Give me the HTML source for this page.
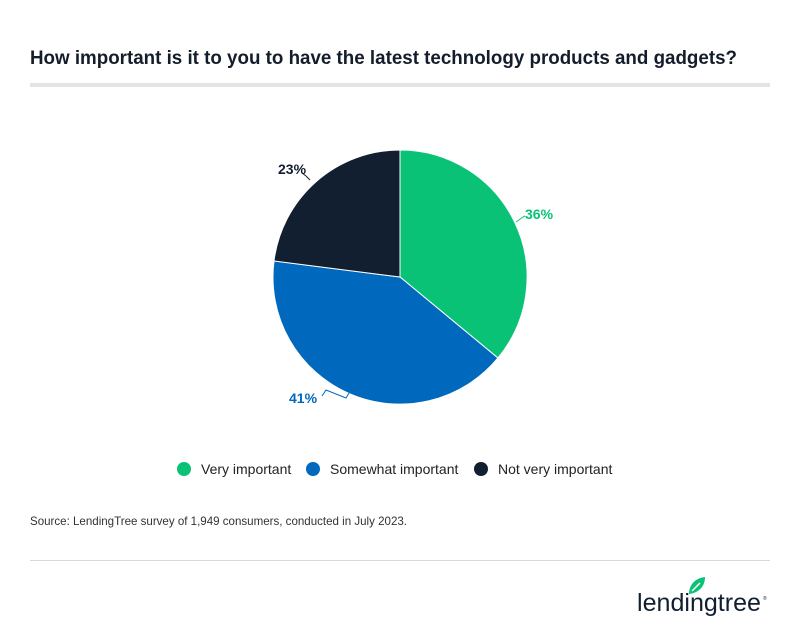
<!DOCTYPE html>
<html><head><meta charset="utf-8"><style>
body{margin:0;background:#fff;width:800px;height:632px;overflow:hidden;font-family:"Liberation Sans",sans-serif;}
</style></head><body>
<svg width="800" height="632" xmlns="http://www.w3.org/2000/svg" style="position:absolute;left:0;top:0">
<text x="30" y="64" font-size="19" font-weight="bold" fill="#141d2b" textLength="707" lengthAdjust="spacingAndGlyphs">How important is it to you to have the latest technology products and gadgets?</text>
<rect x="30" y="83" width="740" height="4" fill="#e3e4e6"/>
<path d="M400,277 L400,150 A127,127 0 0 1 497.9,358 Z" fill="#0ac275" stroke="#fff" stroke-width="1"/>
<path d="M400,277 L497.9,358 A127,127 0 0 1 274,261 Z" fill="#0069bd" stroke="#fff" stroke-width="1"/>
<path d="M400,277 L274,261 A127,127 0 0 1 400,150 Z" fill="#121f30" stroke="#fff" stroke-width="1"/>
<polyline points="516,222 523,217 525,216" fill="none" stroke="#0ac275" stroke-width="1"/>
<text x="525" y="219" font-size="14" font-weight="bold" fill="#0ac275">36%</text>
<polyline points="349,393 346,398 326,390 322,396" fill="none" stroke="#0069bd" stroke-width="1"/>
<text x="289" y="403" font-size="14" font-weight="bold" fill="#0069bd">41%</text>
<polyline points="310,180 306,176 302,173" fill="none" stroke="#121f30" stroke-width="1"/>
<text x="278" y="174" font-size="14" font-weight="bold" fill="#121f30">23%</text>
<circle cx="184" cy="469" r="7" fill="#0ac275"/>
<text x="201" y="474" font-size="14" fill="#222">Very important</text>
<circle cx="313" cy="469" r="7" fill="#0069bd"/>
<text x="330" y="474" font-size="14" fill="#222">Somewhat important</text>
<circle cx="481" cy="469" r="7" fill="#121f30"/>
<text x="498" y="474" font-size="14" fill="#222">Not very important</text>
<text x="30" y="525" font-size="12" fill="#333" textLength="377" lengthAdjust="spacingAndGlyphs">Source: LendingTree survey of 1,949 consumers, conducted in July 2023.</text>
<rect x="30" y="560" width="740" height="1" fill="#d8d9db"/>
<path d="M689,594 C689,584 696,578 705,577 C705,587 698,593 689,594 Z" fill="#0ac275"/>
<path d="M692,591 L700,583" stroke="#fff" stroke-width="1.5"/>
<text x="637" y="611" font-size="25" font-weight="500" fill="#121f30" textLength="124" lengthAdjust="spacingAndGlyphs">lendingtree</text>
<text x="763" y="600" font-size="5" fill="#121f30">®</text>
</svg>
</body></html>
